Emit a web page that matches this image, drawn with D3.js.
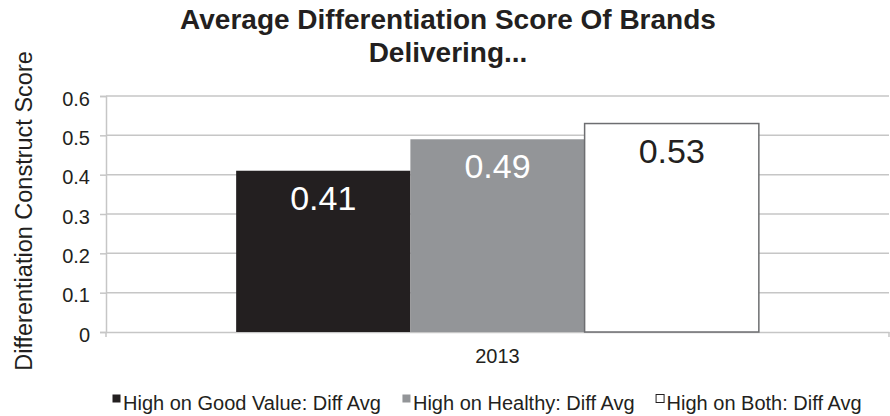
<!DOCTYPE html>
<html>
<head>
<meta charset="utf-8">
<script src="https://cdn.jsdelivr.net/npm/d3@7"></script>
<style>
  html, body { margin: 0; padding: 0; background: #fff; }
  svg { display: block; font-family: "Liberation Sans", Arial, sans-serif; }
</style>
</head>
<body>
<div id="chart"></div>
<script>
const categories = ['2013'];
const seriesNames = [
  'High on Good Value: Diff Avg',
  'High on Healthy: Diff Avg',
  'High on Both: Diff Avg',
];
const seriesValues = [0.41, 0.49, 0.53];
const yTicks = [0, 0.1, 0.2, 0.3, 0.4, 0.5, 0.6];
const titleLines = ['Average Differentiation Score Of Brands', 'Delivering...'];
const yTitle = 'Differentiation Construct Score';

const width = 890;
const height = 416;
const margin = { top: 96, right: 1, bottom: 84, left: 106 };
const chartWidth = width - margin.left - margin.right;
const chartHeight = height - margin.top - margin.bottom;

const barColors = ['#231f20', '#939598', '#ffffff'];
const labelColors = ['#ffffff', '#ffffff', '#231f20'];
const textColor = '#231f20';
const gridColor = '#c6c6c6';

const svg = d3
  .select('#chart')
  .append('svg')
  .attr('width', width)
  .attr('height', height);

// Title
svg
  .append('text')
  .attr('x', 448)
  .attr('y', 29)
  .attr('text-anchor', 'middle')
  .style('font-size', '28px')
  .style('font-weight', 'bold')
  .attr('fill', textColor)
  .selectAll('tspan')
  .data(titleLines)
  .enter()
  .append('tspan')
  .attr('x', 448)
  .attr('dy', (d, i) => (i === 0 ? 0 : 33))
  .text(d => d);

// Y axis title
svg
  .append('text')
  .attr('transform', 'translate(32, 211) rotate(-90)')
  .attr('text-anchor', 'middle')
  .style('font-size', '23.5px')
  .attr('fill', textColor)
  .text(yTitle);

const g = svg
  .append('g')
  .attr('transform', `translate(${margin.left}, ${margin.top})`);

const y = d3
  .scaleLinear()
  .domain([0, 0.6])
  .range([chartHeight, 0]);

const x0 = d3
  .scaleBand()
  .domain(categories)
  .range([0, chartWidth])
  .paddingInner(0)
  .paddingOuter(0.249);

const x1 = d3
  .scaleBand()
  .domain(seriesNames)
  .range([0, x0.bandwidth()])
  .padding(0);

// Gridlines
g.append('g')
  .selectAll('line')
  .data(yTicks.filter(d => d > 0))
  .enter()
  .append('line')
  .attr('x1', 0)
  .attr('x2', chartWidth)
  .attr('y1', d => y(d))
  .attr('y2', d => y(d))
  .attr('stroke', gridColor)
  .attr('stroke-width', 1.5);

// Y axis
const yG = g
  .append('g')
  .call(d3.axisLeft(y).tickValues(yTicks).tickSize(6).tickPadding(10).tickFormat(d3.format('')));
yG.select('.domain').attr('stroke', gridColor).attr('stroke-width', 1.5);
yG.selectAll('.tick line').attr('stroke', gridColor).attr('stroke-width', 1.5);
yG.selectAll('.tick text')
  .attr('fill', textColor)
  .attr('dy', '0.45em')
  .style('font-size', '20px')
  .style('font-family', '"Liberation Sans", Arial, sans-serif');

// X axis
const xG = g
  .append('g')
  .attr('transform', `translate(0, ${chartHeight})`)
  .call(d3.axisBottom(x0).tickSize(0).tickPadding(17));
xG.select('.domain').attr('stroke', gridColor).attr('stroke-width', 1.5);
xG.selectAll('.tick text')
  .attr('fill', textColor)
  .style('font-size', '20px')
  .style('font-family', '"Liberation Sans", Arial, sans-serif');
xG.append('g')
  .selectAll('line')
  .data([0, chartWidth])
  .enter()
  .append('line')
  .attr('x1', d => d)
  .attr('x2', d => d)
  .attr('y1', 0)
  .attr('y2', 5)
  .attr('stroke', gridColor)
  .attr('stroke-width', 1.5);

// Bars
const barG = g
  .append('g')
  .selectAll('g')
  .data(categories)
  .enter()
  .append('g')
  .attr('transform', d => `translate(${x0(d)}, 0)`);

const bars = barG
  .selectAll('g.bar-g')
  .data(() => seriesNames.map((name, i) => ({ name, value: seriesValues[i], idx: i })))
  .enter()
  .append('g')
  .attr('class', 'bar-g');

bars
  .append('rect')
  .attr('x', d => x1(d.name))
  .attr('y', d => y(d.value))
  .attr('width', x1.bandwidth())
  .attr('height', d => y(0) - y(d.value))
  .attr('fill', d => barColors[d.idx])
  .attr('stroke', d => (d.idx === 2 ? '#6d6e71' : 'none'))
  .attr('stroke-width', 1.5);

bars
  .append('text')
  .attr('x', d => x1(d.name) + x1.bandwidth() / 2)
  .attr('y', d => y(d.value) + 39)
  .attr('text-anchor', 'middle')
  .style('font-size', '34px')
  .attr('fill', d => labelColors[d.idx])
  .text(d => d3.format('.2f')(d.value));

// Legend
const legend = svg.append('g').attr('transform', 'translate(112, 410)');
let lx = 0;
seriesNames.forEach((name, i) => {
  const item = legend.append('g').attr('transform', `translate(${lx}, 0)`);
  item
    .append('rect')
    .attr('x', 0.5)
    .attr('y', -15.5)
    .attr('width', 8)
    .attr('height', 8)
    .attr('fill', barColors[i])
    .attr('stroke', i === 2 ? '#231f20' : 'none')
    .attr('stroke-width', 1);
  const t = item
    .append('text')
    .attr('x', 11)
    .attr('y', 0)
    .style('font-size', '20px')
    .attr('fill', textColor)
    .text(name);
  lx += 11 + t.node().getComputedTextLength() + 21;
});
</script>
</body>
</html>
